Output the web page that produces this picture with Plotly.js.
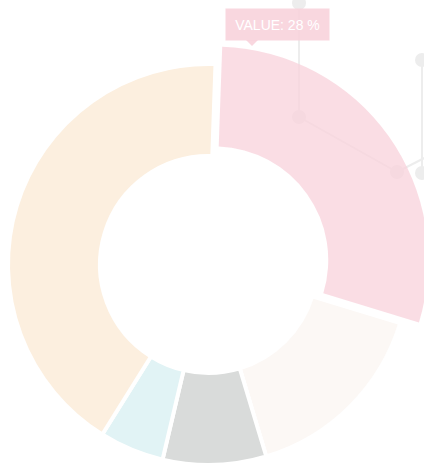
<!DOCTYPE html>
<html>
<head>
<meta charset="utf-8">
<script src="https://cdn.plot.ly/plotly-3.0.1.min.js"></script>
<style>
  html, body { margin: 0; padding: 0; width: 424px; height: 465px; overflow: hidden; background: #ffffff; }
  #chart { position: absolute; left: -30px; top: -30px; width: 500px; height: 540px; }
</style>
</head>
<body>
<div id="chart"></div>
<script>
// ---- data ----
const categories = ['Segment A', 'Segment B', 'Segment C', 'Segment D', 'Segment E'];
const values = [28, 15, 8, 5, 40];
const sliceColors = ['rgba(248,210,219,0.76)', '#fcf8f5', '#d9dbda', '#e1f3f5', '#fcefdf'];
const highlighted = 0; // index of the pulled-out slice
const tooltipText = 'VALUE: 28 %';

// ---- geometry helpers (div is offset by 30px and is 500x540) ----
const OFF = 30, W = 500, H = 540;
const px = sx => (sx + OFF) / W;
const py = sy => 1 - (sy + OFF) / H;
const cx = 208.5, cy = 264.5;

function domainFor(R, pull) {
  const half = R * (1 + pull);
  return {
    x: [px(cx - half), px(cx + half)],
    y: [py(cy + half), py(cy - half)]
  };
}

const transparent = 'rgba(0,0,0,0)';
const mainColors = sliceColors.map((c, i) => i === highlighted ? transparent : c);
const mainLineColors = sliceColors.map((c, i) => i === highlighted ? transparent : '#ffffff');
const hiColors = sliceColors.map((c, i) => i === highlighted ? c : transparent);
const hiPull = values.map((v, i) => i === highlighted ? 0.036 : 0);

const R1 = 200.5, R2 = 213.5;
const traceMain = {
  type: 'pie',
  labels: categories,
  values: values,
  sort: false,
  direction: 'clockwise',
  rotation: 2,
  hole: 108.5 / R1,
  textinfo: 'none',
  hoverinfo: 'none',
  showlegend: false,
  marker: { colors: mainColors, line: { color: mainLineColors, width: 4 } },
  domain: domainFor(R1, 0)
};
const traceHi = {
  type: 'pie',
  labels: categories,
  values: values,
  sort: false,
  direction: 'clockwise',
  rotation: 2,
  hole: 113.5 / R2,
  pull: hiPull,
  textinfo: 'none',
  hoverinfo: 'none',
  showlegend: false,
  marker: { colors: hiColors, line: { color: transparent, width: 0 } },
  domain: domainFor(R2, 0.036)
};

// decorative background network
const deco = '#ededed';
const nodes = [[299, 3], [299, 117], [397, 172], [422, 60], [422, 173]];
const links = [[[299, -10], [299, 117]], [[299, 117], [397, 172]], [[397, 172], [440, 150]], [[422, 60], [422, 173]]];
const shapes = [];
links.forEach(l => shapes.push({
  type: 'line', xref: 'paper', yref: 'paper', layer: 'below',
  x0: px(l[0][0]), y0: py(l[0][1]), x1: px(l[1][0]), y1: py(l[1][1]),
  line: { color: deco, width: 2 }
}));
nodes.forEach(n => shapes.push({
  type: 'circle', xref: 'paper', yref: 'paper', layer: 'below',
  x0: px(n[0] - 7), x1: px(n[0] + 7), y0: py(n[1] + 7), y1: py(n[1] - 7),
  fillcolor: deco, line: { width: 0 }
}));
// tooltip pointer
shapes.push({
  type: 'path', xref: 'paper', yref: 'paper', layer: 'above',
  path: `M ${px(246)},${py(40)} L ${px(252)},${py(46)} L ${px(258)},${py(40)} Z`,
  fillcolor: 'rgba(248,208,217,0.85)', line: { width: 0 }
});

const layout = {
  width: W, height: H,
  margin: { l: 0, r: 0, t: 0, b: 0, pad: 0 },
  paper_bgcolor: 'rgba(0,0,0,0)',
  plot_bgcolor: 'rgba(0,0,0,0)',
  shapes: shapes,
  annotations: [{
    xref: 'paper', yref: 'paper',
    x: px(277), y: py(24.5), xanchor: 'center', yanchor: 'middle',
    text: tooltipText, showarrow: false,
    bgcolor: 'rgba(248,208,217,0.85)',
    width: 103, height: 31, borderpad: 0,
    font: { family: 'Liberation Sans, Arial, sans-serif', size: 14, color: '#ffffff' }
  }]
};

Plotly.newPlot('chart', [traceMain, traceHi], layout, { staticPlot: true, displayModeBar: false });
</script>
</body>
</html>
